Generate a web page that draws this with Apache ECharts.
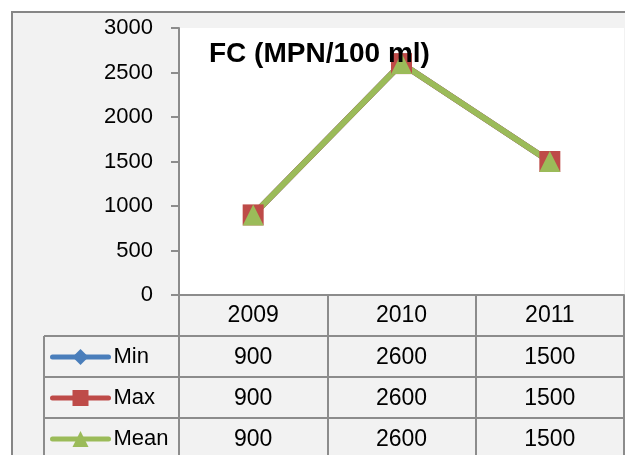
<!DOCTYPE html>
<html>
<head>
<meta charset="utf-8">
<script src="https://cdn.jsdelivr.net/npm/echarts@6/dist/echarts.min.js"></script>
<style>
  html, body { margin: 0; padding: 0; background: #fff; }
  #chart { width: 625px; height: 455px; }
</style>
</head>
<body>
<div id="chart"></div>
<script>
const years = ['2009', '2010', '2011']
const minVals = [900, 2600, 1500]
const maxVals = [900, 2600, 1500]
const meanVals = [900, 2600, 1500]
const seriesNames = ['Min', 'Max', 'Mean']

const font = 'Liberation Sans'
const gridCol = '#8c8c8c'
const chart = echarts.init(document.getElementById('chart'))

// one x axis per table row, labels come from the series arrays
function rowAxis(offset, vals) {
  return {
    type: 'category',
    data: years,
    position: 'bottom',
    offset: offset,
    axisLine: { show: true, lineStyle: { color: gridCol, width: 2 } },
    axisTick: { show: false },
    axisLabel: {
      margin: 10, fontFamily: font, fontSize: 23, color: '#000',
      formatter: (v, i) => String(vals[i])
    }
  }
}

// one legend per row so each sits in its own table row
function rowLegend(name, top) {
  return {
    left: 45, top: top,
    itemWidth: 56, itemHeight: 20,
    lineStyle: { width: 5, cap: 'round' },
    textStyle: { fontFamily: font, fontSize: 22, color: '#000' },
    data: [name]
  }
}

const option = {
  backgroundColor: '#fff',
  animation: false,
  title: {
    text: 'FC (MPN/100 ml)',
    left: 204, top: 35,
    textStyle: { fontFamily: font, fontSize: 28, fontWeight: 'bold', color: '#000' }
  },
  graphic: [
    { type: 'rect', z: -10, shape: { x: 12, y: 12, width: 700, height: 500 },
      style: { fill: '#f2f2f2', stroke: '#868686', lineWidth: 2 } },
    { type: 'line', z: 10, shape: { x1: 44, y1: 336, x2: 179, y2: 336 }, style: { stroke: gridCol, lineWidth: 2 } },
    { type: 'line', z: 10, shape: { x1: 44, y1: 377, x2: 179, y2: 377 }, style: { stroke: gridCol, lineWidth: 2 } },
    { type: 'line', z: 10, shape: { x1: 44, y1: 418, x2: 179, y2: 418 }, style: { stroke: gridCol, lineWidth: 2 } },
    { type: 'line', z: 10, shape: { x1: 44, y1: 336, x2: 44, y2: 460 }, style: { stroke: gridCol, lineWidth: 2 } },
    { type: 'line', z: 10, shape: { x1: 179, y1: 295, x2: 179, y2: 460 }, style: { stroke: gridCol, lineWidth: 2 } }
  ],
  grid: {
    left: 179, right: 1, top: 28, bottom: 160,
    show: true, backgroundColor: '#fff', borderWidth: 0
  },
  legend: [
    rowLegend('Min', 341),
    rowLegend('Max', 382),
    rowLegend('Mean', 423)
  ],
  xAxis: [
    {
      type: 'category',
      data: years,
      boundaryGap: true,
      axisLine: { show: true, lineStyle: { color: gridCol, width: 2 } },
      axisTick: { show: true, length: 165, lineStyle: { color: gridCol, width: 2 } },
      axisLabel: { margin: 9, fontFamily: font, fontSize: 23, color: '#000' }
    },
    rowAxis(41, minVals),
    rowAxis(82, maxVals),
    rowAxis(123, meanVals)
  ],
  yAxis: {
    type: 'value',
    min: 0, max: 3000, interval: 500,
    axisLine: { show: true, lineStyle: { color: gridCol, width: 2 } },
    axisTick: { show: true, length: 8, lineStyle: { color: gridCol, width: 2 } },
    splitLine: { show: false },
    axisLabel: { margin: 26, fontFamily: font, fontSize: 22, color: '#000', formatter: v => String(v) }
  },
  series: [
    {
      name: 'Min', type: 'line', data: minVals,
      symbol: 'diamond', symbolSize: 18,
      itemStyle: { color: '#4a7ebb' },
      lineStyle: { color: '#4a7ebb', width: 6 }
    },
    {
      name: 'Max', type: 'line', data: maxVals,
      symbol: 'rect', symbolSize: 21,
      itemStyle: { color: '#be4b48' },
      lineStyle: { color: '#be4b48', width: 6 }
    },
    {
      name: 'Mean', type: 'line', data: meanVals,
      symbol: 'triangle', symbolSize: 21,
      itemStyle: { color: '#9bbb59' },
      lineStyle: { color: '#9bbb59', width: 6 }
    }
  ]
}

chart.setOption(option)
window.addEventListener('resize', () => {
  chart.resize()
})
</script>
</body>
</html>
